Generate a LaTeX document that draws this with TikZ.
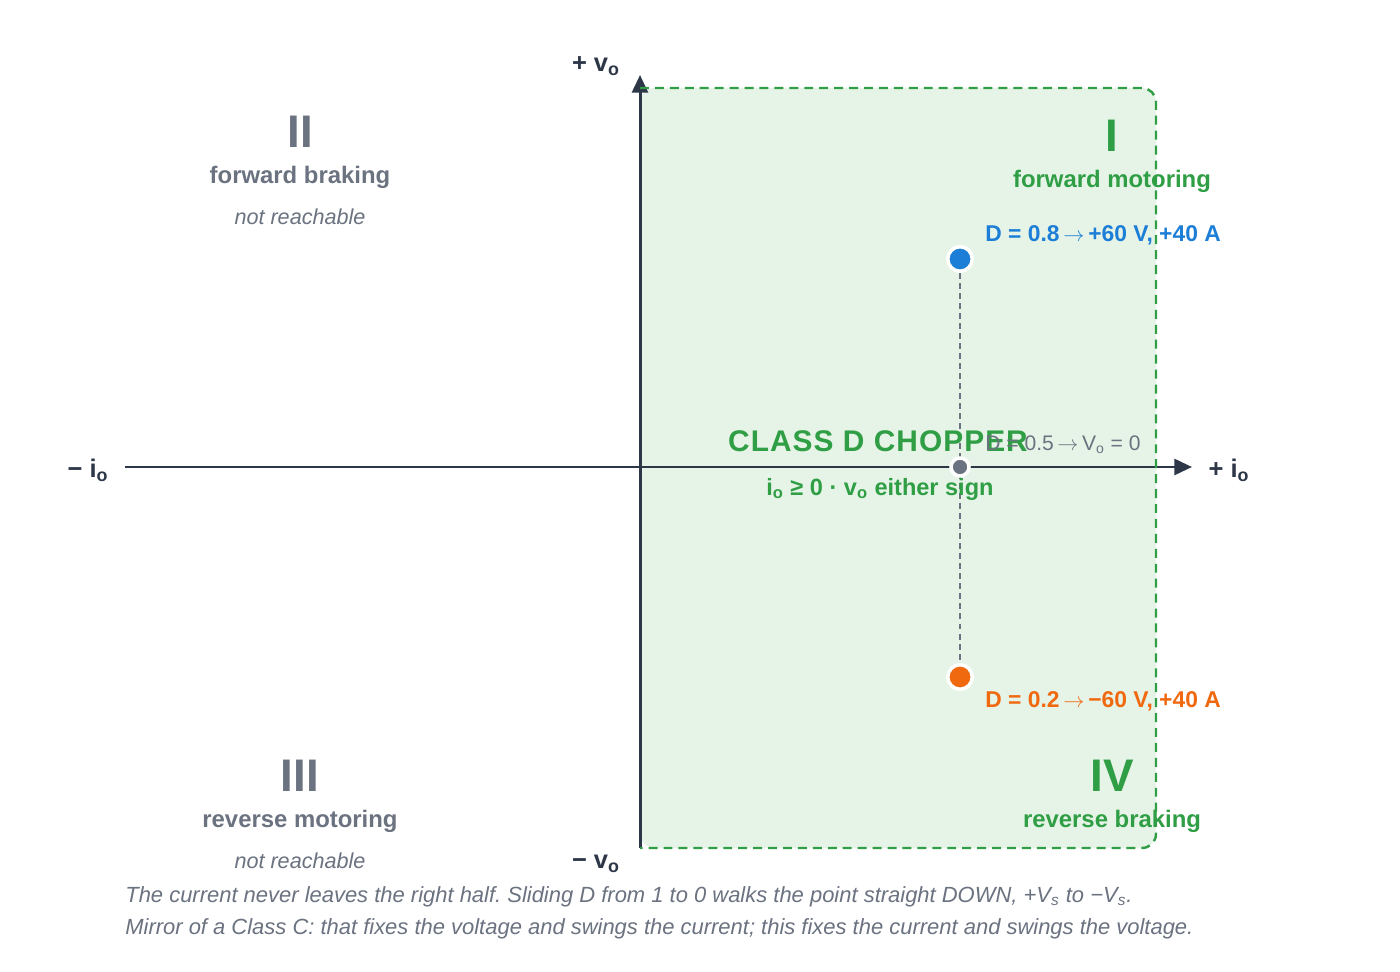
\documentclass[tikz,border=0pt]{standalone}
\usepackage{fontspec}
\setmainfont{Liberation Sans}
\newfontfamily\chopperfont{Liberation Sans}[LetterSpace=3.5]
\usepackage{xcolor}
\usetikzlibrary{arrows.meta}
\frenchspacing

\definecolor{axisslate}{HTML}{2D3748}
\definecolor{quadgreen}{HTML}{2F9E44}
\definecolor{regionfill}{HTML}{E6F4E8}
\definecolor{quadgray}{HTML}{6B7280}
\definecolor{dotblue}{HTML}{1C7ED6}
\definecolor{dotorange}{HTML}{F0690F}

\newcommand{\thinto}{\,$\rightarrow$\,}

\begin{document}
\begin{tikzpicture}[
    x=0.02cm, y=-0.02cm,        % one unit = one pixel, y runs down
    axis/.style={draw=axisslate, line width=1.7pt, -{Triangle[length=10pt,width=9pt]}},
    axislab/.style={text=axisslate, font=\fontsize{14.5}{17}\selectfont\bfseries},
    quadnum/.style={font=\fontsize{26}{30}\selectfont\bfseries},
    quadname/.style={font=\fontsize{13.6}{16}\selectfont\bfseries},
    faint/.style={text=quadgray, font=\fontsize{12.3}{15}\selectfont\itshape},
    opdot/.style={circle, draw=white, line width=2pt, minimum size=0.49cm, inner sep=0pt},
    oplab/.style={anchor=west, inner sep=0pt, font=\fontsize{13}{15}\selectfont\bfseries},
    noteline/.style={anchor=west, inner sep=0pt, text=quadgray, font=\fontsize{12.5}{15}\selectfont\itshape},
]
\useasboundingbox[fill=white] (0,0) rectangle (1400,972);

% -------------------------------------------------
% Reachable region (right half plane)
% -------------------------------------------------
\fill[regionfill, rounded corners=8] (640,88) rectangle (1156,848);

% -------------------------------------------------
% Axes
% -------------------------------------------------
\coordinate (ineg) at (125,467);
\coordinate (ipos) at (1192,467);
\coordinate (vneg) at (640,848);
\coordinate (vpos) at (640,75);
\draw[axis] (ineg) -- (ipos);
\draw[axis] (vneg) -- (vpos);

% dashed outline, left side sits on the v axis
\draw[quadgreen, line width=1.4pt, dash pattern=on 5.1pt off 3.4pt, rounded corners=8]
    (640,88) -- (1156,88) -- (1156,848) -- (640,848);

\node[axislab] (vplus)  at (596,66)  {+ v\textsubscript{o}};
\node[axislab] (vminus) at (596,864) {− v\textsubscript{o}};
\node[axislab] (iminus) at (88,470)  {− i\textsubscript{o}};
\node[axislab] (iplus)  at (1229,470) {+ i\textsubscript{o}};

% -------------------------------------------------
% Quadrant labels
% -------------------------------------------------
\node[quadnum, text=quadgray]   (q2)    at (300,132) {II};
\node[quadname, text=quadgray]  (q2nm)  at (300,177) {forward braking};
\node[faint]                    (q2no)  at (300,217) {not reachable};

\node[quadnum, text=quadgreen]  (q1)    at (1112,136) {I};
\node[quadname, text=quadgreen] (q1nm)  at (1112,181) {forward motoring};

\node[quadnum, text=quadgray]   (q3)    at (300,776) {III};
\node[quadname, text=quadgray]  (q3nm)  at (300,821) {reverse motoring};
\node[faint]                    (q3no)  at (300,861) {not reachable};

\node[quadnum, text=quadgreen]  (q4)    at (1112,776) {IV};
\node[quadname, text=quadgreen] (q4nm)  at (1112,821) {reverse braking};

% -------------------------------------------------
% Operating points for D = 0.8, 0.5, 0.2
% -------------------------------------------------
\node[opdot, fill=dotblue]   (pt08) at (960,259) {};
\node[opdot, fill=dotorange] (pt02) at (960,677) {};
\draw[quadgray, line width=1.1pt, dash pattern=on 3.4pt off 2.3pt] (pt08) -- (pt02);
\node[opdot, fill=quadgray, minimum size=0.36cm] (pt05) at (960,467) {};

\node[oplab, text=dotblue]   (lab08) at (985,235) {D = 0.8\thinto+60 V, +40 A};
\node[oplab, text=dotorange] (lab02) at (985,701) {D = 0.2\thinto−60 V, +40 A};

\node[text=quadgreen, font=\fontsize{17}{20}\selectfont\bfseries\chopperfont] (title) at (878,441) {CLASS D CHOPPER};
\node[oplab, text=quadgray, font=\fontsize{12}{14}\selectfont] (lab05) at (985,445) {D = 0.5\thinto V\textsubscript{o} = 0};
\node[quadname, font=\fontsize{13.4}{16}\selectfont\bfseries, text=quadgreen] (rule) at (880,489)
    {i\textsubscript{o} ≥ 0 · v\textsubscript{o} either sign};

% -------------------------------------------------
% Notes below the plane
% -------------------------------------------------
\node[noteline] (note1) at (125,897) {The current never leaves the right half. Sliding D from 1 to 0 walks the point straight DOWN, +V\textsubscript{s} to −V\textsubscript{s}.};
\node[noteline] (note2) at (125,929) {Mirror of a Class C: that fixes the voltage and swings the current; this fixes the current and swings the voltage.};

\end{tikzpicture}
\end{document}
